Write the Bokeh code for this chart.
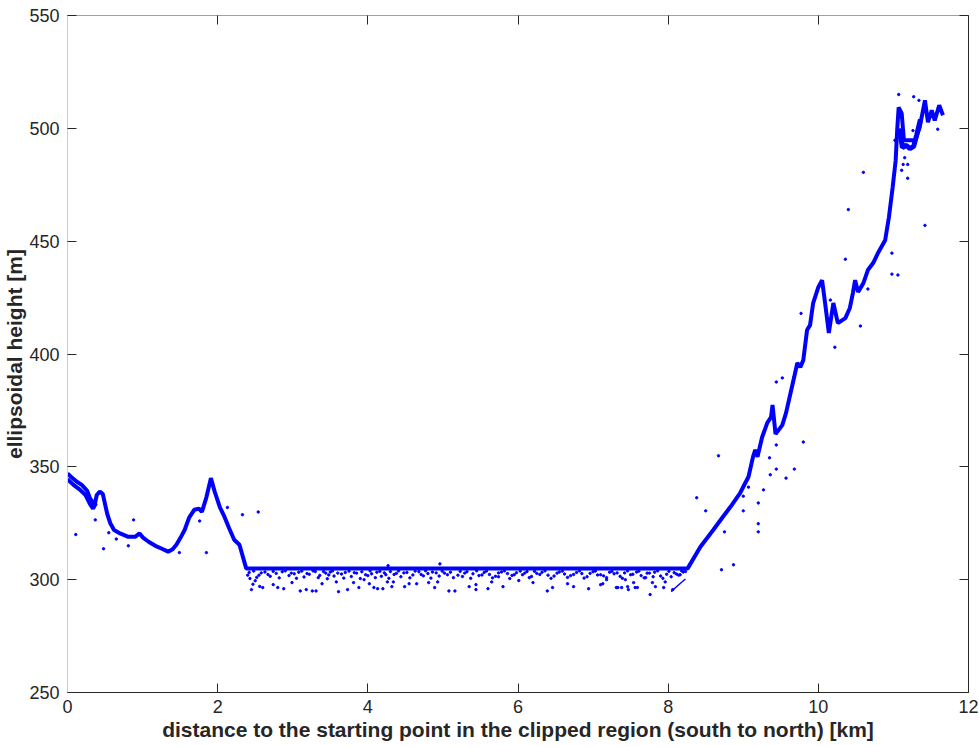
from bokeh.plotting import figure
from bokeh.models import LinearAxis, Range1d, FixedTicker, CustomJSTickFormatter
from bokeh.embed import file_html
from bokeh.resources import INLINE

# Height profile along the clipped track (distance in km, ellipsoidal height in m)
profile_km = [0.00, 0.05, 0.12, 0.19, 0.26, 0.30, 0.36, 0.39, 0.43, 0.47, 0.50, 0.53,
              0.57, 0.62, 0.70, 0.81, 0.90, 0.96, 1.01, 1.08, 1.17, 1.25, 1.34, 1.40,
              1.45, 1.52, 1.56, 1.62, 1.69, 1.75, 1.79, 1.85, 1.91, 1.96, 2.03, 2.09,
              2.15, 2.22, 2.29, 2.38, 8.26, 8.43, 8.60, 8.73, 8.83, 8.96, 9.07, 9.13,
              9.16, 9.19, 9.25, 9.32, 9.37, 9.39, 9.43, 9.52, 9.57, 9.63, 9.68, 9.72,
              9.76, 9.80, 9.85, 9.89, 9.93, 10.00, 10.05, 10.09, 10.14, 10.20, 10.26,
              10.36, 10.42, 10.46, 10.49, 10.53, 10.60, 10.66, 10.73, 10.80, 10.89,
              10.94, 10.99, 11.03, 11.05, 11.07, 11.11, 11.14, 11.22, 11.29, 11.35,
              11.42, 11.46, 11.51, 11.55, 11.61, 11.66]
profile_h = [347.0, 345.5, 343.5, 342.0, 339.5, 336.0, 333.0, 337.5, 339.0, 338.0, 333.5, 329.0,
             325.0, 322.0, 320.5, 319.0, 319.0, 320.5, 318.5, 316.8, 315.0, 313.8, 312.4, 313.5,
             315.5, 319.5, 322.0, 327.5, 331.0, 331.5, 330.0, 336.5, 345.0, 339.0, 332.0, 327.9,
             323.0, 317.7, 315.5, 305.0, 305.0, 314.6, 322.0, 327.9, 332.3, 338.5, 345.6, 354.4,
             357.5, 354.4, 363.0, 369.5, 372.0, 377.4, 364.5, 368.5, 373.9, 382.7, 390.0, 396.0,
             394.2, 397.3, 410.6, 412.8, 422.4, 429.6, 432.7, 422.6, 409.3, 422.6, 413.7,
             415.9, 420.4, 427.0, 432.7, 427.5, 431.4, 437.2, 440.3, 445.1, 450.4,
             460.6, 473.9, 485.8, 499.1, 509.3, 506.6, 494.7, 494.7, 494.7, 500.4,
             512.4, 502.7, 508.0, 503.5, 510.2, 505.8]

# Secondary returns that thicken the profile near the start and at the summit
start_band_km = [0.00, 0.08, 0.16, 0.24, 0.30, 0.34, 0.38]
start_band_h = [344.5, 342.0, 340.0, 337.5, 333.5, 331.5, 334.0]
summit_band_km = [11.08, 11.12, 11.17, 11.22, 11.27, 11.31, 11.36]
summit_band_h = [500.0, 491.5, 492.5, 491.0, 492.0, 497.0, 504.0]
branch_km = [8.04, 8.10, 8.16, 8.23]
branch_h = [294.7, 296.5, 298.3, 300.3]

# Isolated returns around the profile
outlier_km = [0.11, 0.37, 0.48, 0.55, 0.65, 0.81, 0.88, 1.49, 1.76, 1.85, 2.13, 2.33,
              2.54, 4.27, 4.96, 8.38, 8.50, 8.67, 8.71, 8.75, 8.87, 9.00, 9.00, 9.07,
              9.20, 9.20, 9.20, 9.27, 9.35, 9.36, 9.44, 9.44, 9.44, 9.52, 9.57, 9.68,
              9.77, 9.80, 10.16, 10.22, 10.36, 10.40, 10.56, 10.60, 10.66, 10.98, 10.98,
              11.02, 11.06, 11.07, 11.11, 11.13, 11.15, 11.19, 11.19, 11.26, 11.27,
              11.34, 11.42, 11.59]
outlier_h = [320.0, 326.5, 313.7, 320.8, 318.0, 315.0, 326.5, 312.0, 326.0, 312.0, 332.0, 328.8,
             330.0, 306.2, 307.0, 336.3, 330.5, 354.9, 304.4, 321.2, 306.6, 330.5, 337.0, 341.0,
             334.0, 324.8, 321.2, 339.8, 354.0, 346.5, 349.0, 359.7, 387.6, 389.4, 345.0, 349.0,
             418.0, 361.0, 423.9, 403.0, 442.0, 464.0, 412.4, 480.5, 428.8, 444.7, 435.4,
             494.7, 435.0, 515.0, 481.4, 484.0, 487.0, 477.9, 484.0, 499.0, 514.0,
             512.4, 457.0, 499.6]

# Scattered low returns below the flat section
low_km = [2.40, 2.45, 2.50, 2.60, 2.74, 2.80, 2.88, 2.99, 3.10, 3.18, 3.26, 3.31, 3.39, 3.46,
          3.58, 3.61, 3.73, 3.81, 3.88, 3.95, 4.02, 4.08, 4.13, 4.20, 4.26, 4.32, 4.34, 4.49,
          4.55, 4.65, 4.81, 4.89, 4.93, 5.08, 5.16, 5.35, 5.44, 5.44, 5.60, 5.65, 5.74, 5.80,
          6.01, 6.20, 6.39, 6.46, 6.66, 6.74, 6.94, 7.10, 7.13, 7.18, 7.31, 7.33, 7.38, 7.43,
          7.46, 7.47, 7.54, 7.56, 7.59, 7.70, 7.76, 7.79, 7.80, 7.83, 7.94, 7.96, 8.04, 8.06,
          8.16, 2.43, 2.47, 2.52, 2.56]
low_h = [302.0, 295.6, 299.5, 296.5, 297.8, 296.5, 296.0, 298.7, 295.0, 295.6, 295.0, 295.0, 298.2, 300.4,
         299.0, 294.7, 295.6, 298.7, 296.5, 300.0, 298.2, 296.5, 296.0, 296.0, 299.0, 296.9, 299.0, 296.9,
         298.2, 298.2, 298.7, 296.5, 299.0, 295.0, 295.0, 296.9, 295.6, 297.8, 296.0, 299.0, 301.3, 296.9,
         299.6, 298.7, 295.0, 296.5, 298.2, 296.9, 296.0, 297.8, 298.2, 300.0, 296.5, 296.5, 296.5, 300.0,
         296.9, 295.6, 298.7, 296.5, 296.5, 300.9, 293.4, 298.7, 301.3, 296.9, 296.5, 299.0, 301.3, 295.6,
         302.2, 300.5, 298.0, 301.0, 297.0]

# Dense returns just under the flat section
near_km = [2.42, 2.55, 2.63, 2.70, 2.78, 2.86, 2.95, 3.02, 3.08, 3.15, 3.22, 3.30, 3.36, 3.44,
           3.50, 3.55, 3.65, 3.70, 3.78, 3.85, 3.92, 4.00, 4.05, 4.12, 4.18, 4.24, 4.30, 4.38,
           4.44, 4.52, 4.60, 4.68, 4.74, 4.80, 4.86, 4.95, 5.02, 5.10, 5.20, 5.26, 5.32, 5.40,
           5.48, 5.55, 5.62, 5.70, 5.78, 5.86, 5.92, 5.98, 6.06, 6.12, 6.18, 6.25, 6.32, 6.40,
           6.48, 6.55, 6.62, 6.70, 6.78, 6.85, 6.92, 7.00, 7.06, 7.14, 7.22, 7.28, 7.36, 7.42,
           7.50, 7.58, 7.64, 7.72, 7.82, 7.90, 7.98, 8.08, 8.14, 8.20,
           2.48, 2.58, 2.67, 2.74, 2.82, 2.90, 2.98, 3.05, 3.12, 3.19, 3.27, 3.34, 3.41, 3.48,
           3.53, 3.60, 3.68, 3.75, 3.82, 3.90, 3.97, 4.03, 4.10, 4.16, 4.22, 4.28, 4.35, 4.41,
           4.48, 4.56, 4.63, 4.71, 4.77, 4.84, 4.91, 4.99, 5.06, 5.14, 5.23, 5.29, 5.37, 5.45,
           5.52, 5.58, 5.66, 5.74, 5.82, 5.89, 5.95, 6.03, 6.09, 6.15, 6.22, 6.29, 6.36, 6.44,
           6.52, 6.59, 6.66, 6.74, 6.82, 6.88, 6.96, 7.03, 7.10, 7.18, 7.25, 7.32, 7.39, 7.46,
           7.53, 7.61, 7.68, 7.75, 7.86, 7.93, 8.01, 8.11, 8.18, 8.23]
near_h = [303.2, 302.0, 303.4, 301.5, 302.8, 303.5, 301.8, 302.6, 303.3, 301.2, 302.4, 303.6, 301.9, 302.9,
          303.4, 301.6, 302.5, 303.2, 301.4, 302.9, 303.5, 301.8, 302.6, 303.3, 301.5, 302.2, 303.6, 302.8,
          301.3, 303.2, 302.1, 303.5, 301.7, 302.7, 303.4, 301.6, 302.9, 303.3, 302.0, 301.4, 303.5, 302.6,
          301.8, 303.2, 302.3, 301.5, 303.4, 302.7, 301.9, 303.1, 302.2, 303.6, 301.4, 302.8, 303.3, 302.0,
          301.6, 303.4, 302.5, 301.8, 303.2, 302.7, 301.3, 303.5, 302.1, 301.7, 303.3, 302.6, 301.5, 303.0,
          302.2, 303.4, 301.8, 302.9, 303.3, 301.6, 302.4, 303.1, 302.0, 303.4,
          303.8, 303.0, 302.3, 303.7, 300.8, 303.9, 302.9, 300.6, 303.8, 302.7, 303.9, 300.9, 303.6, 302.1,
          303.9, 302.9, 300.7, 303.8, 303.1, 300.5, 302.2, 303.9, 300.9, 303.7, 303.0, 300.6, 302.3, 303.9,
          303.0, 300.8, 303.8, 302.3, 303.9, 300.7, 303.0, 303.8, 302.2, 300.9, 303.7, 302.9, 300.6, 303.9,
          302.1, 303.8, 300.8, 303.0, 303.9, 300.5, 302.2, 303.8, 302.9, 300.9, 303.7, 302.3, 303.9, 300.6,
          302.9, 303.8, 301.0, 302.3, 303.9, 300.7, 302.8, 303.8, 302.2, 300.9, 303.7, 303.0, 300.6, 303.9,
          302.4, 303.8, 300.8, 302.9, 303.9, 300.6, 303.7, 302.5, 303.9, 303.6]

x_ticks = [0, 2, 4, 6, 8, 10, 12]
y_ticks = [250, 300, 350, 400, 450, 500, 550]

BLUE = "#0000ff"
TEXT = "#262626"
FONT = "Liberation Sans"

p = figure(width=979, height=747, output_backend="svg", toolbar_location=None,
           x_range=Range1d(0, 12), y_range=Range1d(250, 550),
           min_border_left=66, min_border_right=11, min_border_top=15, min_border_bottom=55,
           x_axis_label="distance to the starting point in the clipped region (south to north) [km]",
           y_axis_label="ellipsoidal height [m]")
p.outline_line_color = None
p.xgrid.visible = False
p.ygrid.visible = False
p.background_fill_color = "white"
p.border_fill_color = "white"

p.line(profile_km, profile_h, line_color=BLUE, line_width=4)
p.line(start_band_km, start_band_h, line_color=BLUE, line_width=4)
p.line(summit_band_km, summit_band_h, line_color=BLUE, line_width=5)
p.line(branch_km, branch_h, line_color=BLUE, line_width=1.5)
p.scatter(near_km, near_h, size=2.4, color=BLUE)
p.scatter(low_km, low_h, size=2.4, color=BLUE)
p.scatter(outlier_km, outlier_h, size=2.4, color=BLUE)


def style(ax, ticks):
    ax.ticker = FixedTicker(ticks=ticks)
    ax.major_tick_in = 9
    ax.major_tick_out = 0
    ax.minor_tick_in = 0
    ax.minor_tick_out = 0
    ax.major_tick_line_color = TEXT
    ax.axis_line_color = TEXT
    ax.major_label_text_font = FONT
    ax.major_label_text_color = TEXT
    ax.major_label_text_font_size = "18px"
    ax.axis_label_text_font = FONT
    ax.axis_label_text_font_style = "bold"
    ax.axis_label_text_font_size = "21px"
    ax.axis_label_text_color = TEXT


style(p.xaxis[0], x_ticks)
style(p.yaxis[0], y_ticks)
p.xaxis[0].major_label_standoff = 7
p.xaxis[0].axis_label_standoff = 2
p.yaxis[0].major_label_standoff = 8
p.yaxis[0].axis_label_standoff = 0
p.yaxis[0].axis_line_color = "#cccccc"

# Box frame: tick marks on the top and right edges, without labels
blank = CustomJSTickFormatter(code="return ''")
top = LinearAxis(formatter=blank)
style(top, x_ticks)
top.axis_line_color = "#a0a0a0"
top.major_label_standoff = 0
p.add_layout(top, "above")

right = LinearAxis(formatter=blank)
style(right, y_ticks)
right.major_label_standoff = 0
p.add_layout(right, "right")

open("out.html", "w").write(file_html(p, INLINE))
